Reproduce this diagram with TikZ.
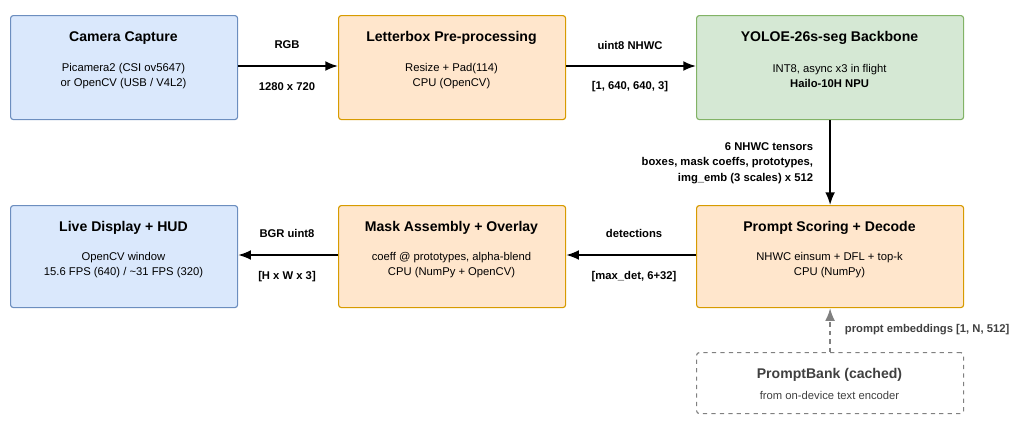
\documentclass[tikz,border=0pt]{standalone}
\usepackage{fontspec}
\setmainfont{Liberation Sans}
\usetikzlibrary{arrows.meta,positioning}
\definecolor{bluefill}{HTML}{DAE8FC}\definecolor{blueline}{HTML}{6C8EBF}
\definecolor{orangefill}{HTML}{FFE6CC}\definecolor{orangeline}{HTML}{D79B00}
\definecolor{greenfill}{HTML}{D5E8D4}\definecolor{greenline}{HTML}{82B366}
\tikzset{
  stage/.style={draw, rounded corners=2pt, thick, minimum height=2.6cm, align=center, font=\fontsize{8}{11}\selectfont, anchor=north west},
  io/.style={stage, fill=bluefill, draw=blueline, minimum width=5.675cm},
  proc/.style={stage, fill=orangefill, draw=orangeline, minimum width=5.675cm},
  npu/.style={stage, fill=greenfill, draw=greenline, minimum width=6.675cm},
  flow/.style={-{Latex[length=9pt,width=7pt]}, line width=1.3pt},
  lbl/.style={font=\bfseries\fontsize{8}{11}\selectfont},
  ttl/.style={font=\bfseries\fontsize{10}{12}\selectfont}
}
\begin{document}
\begin{tikzpicture}[x=0.025cm, y=-0.025cm]
\useasboundingbox (0,0) rectangle (1024,430);
\node[io] (camera) at (10,15) {};
\node[proc] (letterbox) at (338,15) {};
\node[npu] (backbone) at (696,15) {};
\node[npu, fill=orangefill, draw=orangeline, minimum height=2.55cm] (scoring) at (696,205) {};
\node[proc, minimum height=2.55cm] (mask) at (338,205) {};
\node[io, minimum height=2.55cm] (display) at (10,205) {};
\node[stage, draw=gray, dashed, minimum width=6.675cm, minimum height=1.525cm] (bank) at (696,352) {};

% box texts
\node[ttl] at (123.5,38) {Camera Capture};
\node[align=center, font=\fontsize{8}{11}\selectfont] at (123.5,76) {Picamera2 (CSI ov5647)\\or OpenCV (USB / V4L2)};
\node[ttl] at (451.5,38) {Letterbox Pre-processing};
\node[align=center, font=\fontsize{8}{11}\selectfont] at (451.5,76) {Resize + Pad(114)\\CPU (OpenCV)};
\node[ttl] at (829.5,38) {YOLOE-26s-seg Backbone};
\node[align=center, font=\fontsize{8}{11}\selectfont] at (829.5,76) {INT8, async x3 in flight\\\textbf{Hailo-10H NPU}};
\node[ttl] at (829.5,228) {Prompt Scoring + Decode};
\node[align=center, font=\fontsize{8}{11}\selectfont] at (829.5,265) {NHWC einsum + DFL + top-k\\CPU (NumPy)};
\node[ttl] at (451.5,228) {Mask Assembly + Overlay};
\node[align=center, font=\fontsize{8}{11}\selectfont] at (451.5,265) {coeff @ prototypes, alpha-blend\\CPU (NumPy + OpenCV)};
\node[ttl] at (123.5,228) {Live Display + HUD};
\node[align=center, font=\fontsize{8}{11}\selectfont] at (123.5,265) {OpenCV window\\15.6 FPS (640) / \textasciitilde31 FPS (320)};
\node[ttl, text=black!75] at (829.5,375) {PromptBank (cached)};
\node[font=\fontsize{8}{11}\selectfont, text=black!75] at (829.5,395) {from on-device text encoder};

% connectors
\draw[flow] (camera.east |- 0,66) -- (letterbox.west |- 0,66);
\node[lbl] at (287,45) {RGB};
\node[lbl] at (287,87) {1280 x 720};
\draw[flow] (letterbox.east |- 0,66) -- (backbone.west |- 0,66);
\node[lbl] at (630,45) {uint8 NHWC};
\node[lbl] at (630,87) {[1, 640, 640, 3]};
\draw[flow] (backbone) -- (scoring);
\node[lbl, align=right, anchor=east] at (818,163) {6 NHWC tensors\\boxes, mask coeffs, prototypes,\\img\_emb (3 scales) x 512};
\draw[flow] (scoring.west |- 0,255) -- (mask.east |- 0,255);
\node[lbl] at (634,233) {detections};
\node[lbl] at (634,277) {[max\_det, 6+32]};
\draw[flow] (mask.west |- 0,255) -- (display.east |- 0,255);
\node[lbl] at (287,233) {BGR uint8};
\node[lbl] at (287,277) {[H x W x 3]};
\draw[flow, dashed, gray] (bank) -- (scoring);
\node[lbl, anchor=west, text=black!75] at (840,330) {prompt embeddings [1, N, 512]};
\end{tikzpicture}
\end{document}
